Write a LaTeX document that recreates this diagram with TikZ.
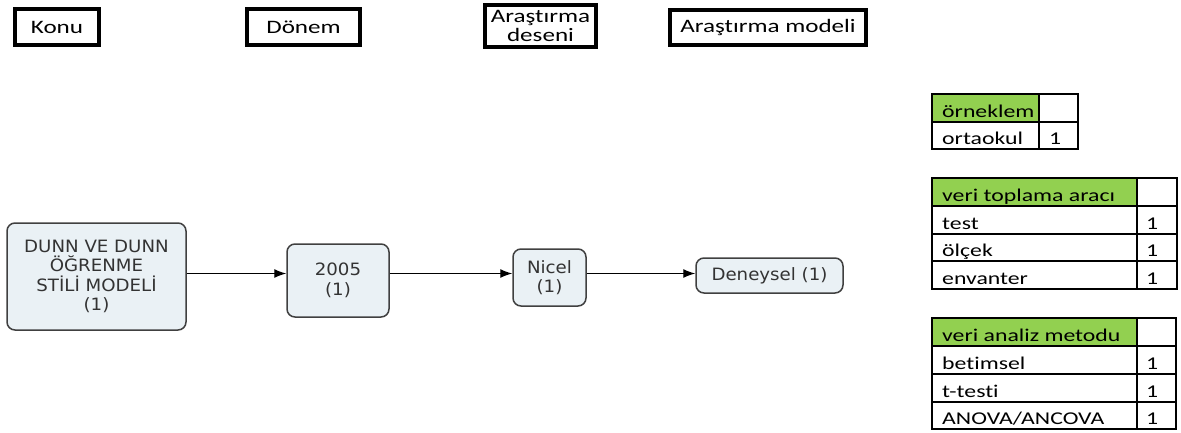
\documentclass[tikz,border=0pt]{standalone}
\usepackage{fontspec}
\setmainfont{Carlito}
\newfontfamily\hdfont[FakeStretch=1.32,Ligatures={NoCommon,NoContextual},Contextuals=NoAlternate]{Carlito}
\newfontfamily\flowfont[FakeStretch=1.07]{DejaVu Sans}
\usetikzlibrary{arrows.meta}
\definecolor{flowfill}{HTML}{EAF1F5}
\definecolor{flowdraw}{HTML}{404040}
\definecolor{flowtext}{HTML}{333333}
\definecolor{hdrgreen}{HTML}{92D050}
\begin{document}
\begin{tikzpicture}[x=1pt,y=-1pt,
 hdbox/.style={draw=black, line width=4pt, inner sep=0pt, align=center, font=\hdfont\fontsize{19}{19.5}\selectfont},
 flowbox/.style={draw=flowdraw, fill=flowfill, line width=1.5pt, rounded corners=8pt, inner sep=0pt, align=center, text=flowtext, font=\flowfont\fontsize{17}{19.5}\selectfont},
 arr/.style={-{Latex[length=12pt,width=9pt]}, line width=1.2pt, black},
 cell/.style={draw=black, line width=1.3pt},
 celltext/.style={anchor=base west, inner sep=0pt, font=\hdfont\fontsize{18}{20}\selectfont}
]
\useasboundingbox (0,0) rectangle (1181,432);

% headers
\node[hdbox, minimum width=84pt, minimum height=36pt] (konu) at (57,27) {Konu};
\node[hdbox, minimum width=113pt, minimum height=36pt] (donem) at (303.5,27) {Dönem};
\node[hdbox, minimum width=111pt, minimum height=42pt] (desen) at (540.5,26) {Araştırma\\deseni};
\node[hdbox, minimum width=196pt, minimum height=35pt] (model) at (768,27.5) {Araştırma modeli};

% flow
\node[flowbox, minimum width=179pt, minimum height=107pt] (dunn) at (96.5,276.5) {DUNN VE DUNN\\ÖĞRENME\\STİLİ MODELİ\\(1)};
\node[flowbox, minimum width=102pt, minimum height=73pt] (d2005) at (338,280.5) {2005\\(1)};
\node[flowbox, minimum width=73pt, minimum height=57pt] (nicel) at (549.5,277.5) {Nicel\\(1)};
\node[flowbox, minimum width=147pt, minimum height=35pt] (deney) at (769.5,275.5) {Deneysel (1)};

\coordinate (ay) at (0,273.5);
\draw[arr] (dunn.east |- ay) -- (d2005.west |- ay);
\draw[arr] (d2005.east |- ay) -- (nicel.west |- ay);
\draw[arr] (nicel.east |- ay) -- (deney.west |- ay);

% table 1
\fill[hdrgreen] (932,94) rectangle (1039,122);
\draw[cell] (932,94) rectangle (1078,149);
\draw[cell] (932,122) -- (1078,122);
\draw[cell] (1039,94) -- (1039,149);
\node[celltext] (t1h) at (942,117) {örneklem};
\node[celltext] (t1a) at (942,144) {ortaokul};
\node[celltext] (t1an) at (1049,144) {1};

% table 2
\fill[hdrgreen] (932,178) rectangle (1137,206);
\draw[cell] (932,178) rectangle (1177,289);
\draw[cell] (932,206) -- (1177,206);
\draw[cell] (932,234) -- (1177,234);
\draw[cell] (932,261) -- (1177,261);
\draw[cell] (1137,178) -- (1137,289);
\node[celltext] (t2h) at (942,201) {veri toplama aracı};
\node[celltext] (t2a) at (942,229) {test};
\node[celltext] (t2b) at (942,256) {ölçek};
\node[celltext] (t2c) at (942,284) {envanter};
\node[celltext] (t2an) at (1146,229) {1};
\node[celltext] (t2bn) at (1146,256) {1};
\node[celltext] (t2cn) at (1146,284) {1};

% table 3
\fill[hdrgreen] (932,318) rectangle (1137,346);
\draw[cell] (932,318) rectangle (1176,429);
\draw[cell] (932,346) -- (1176,346);
\draw[cell] (932,374) -- (1176,374);
\draw[cell] (932,402) -- (1176,402);
\draw[cell] (1137,318) -- (1137,429);
\node[celltext] (t3h) at (942,341) {veri analiz metodu};
\node[celltext] (t3a) at (942,369) {betimsel};
\node[celltext] (t3b) at (942,397) {t-testi};
\node[celltext] (t3c) at (942,424) {ANOVA/ANCOVA};
\node[celltext] (t3an) at (1146,369) {1};
\node[celltext] (t3bn) at (1146,397) {1};
\node[celltext] (t3cn) at (1146,424) {1};
\end{tikzpicture}
\end{document}
